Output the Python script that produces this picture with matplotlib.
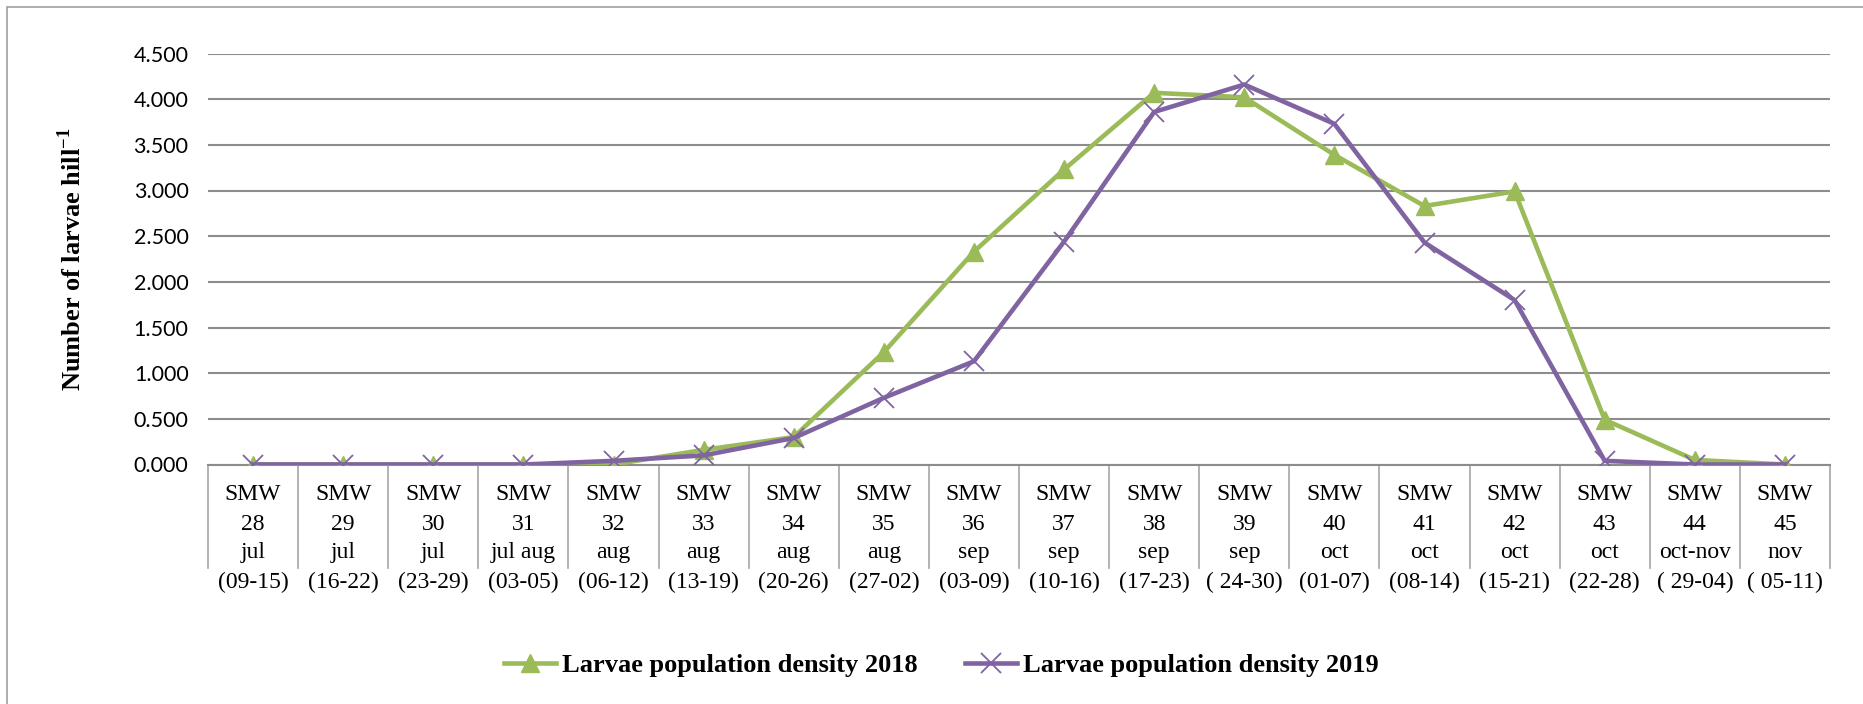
import matplotlib
matplotlib.use("Agg")
import matplotlib.pyplot as plt
import matplotlib.transforms as mtransforms
from matplotlib.patches import Rectangle
from matplotlib.ticker import FuncFormatter

# data
weeks = ["28", "29", "30", "31", "32", "33", "34", "35", "36",
         "37", "38", "39", "40", "41", "42", "43", "44", "45"]
months = ["jul", "jul", "jul", "jul aug", "aug", "aug", "aug", "aug", "sep",
          "sep", "sep", "sep", "oct", "oct", "oct", "oct", "oct-nov", "nov"]
dates = ["(09-15)", "(16-22)", "(23-29)", "(03-05)", "(06-12)", "(13-19)",
         "(20-26)", "(27-02)", "(03-09)", "(10-16)", "(17-23)", "( 24-30)",
         "(01-07)", "(08-14)", "(15-21)", "(22-28)", "( 29-04)", "( 05-11)"]
density_2018 = [0.00, 0.00, 0.00, 0.00, 0.00, 0.16, 0.30, 1.23, 2.33,
                3.23, 4.07, 4.02, 3.39, 2.83, 2.99, 0.49, 0.05, 0.00]
density_2019 = [0.00, 0.00, 0.00, 0.00, 0.04, 0.10, 0.29, 0.73, 1.13,
                2.44, 3.86, 4.16, 3.73, 2.43, 1.80, 0.04, 0.00, 0.00]
yticks = [0.0, 0.5, 1.0, 1.5, 2.0, 2.5, 3.0, 3.5, 4.0, 4.5]

GREEN = "#9BBB59"
PURPLE = "#8064A2"
GRID = "#8C8C8C"
SERIF = "Liberation Serif"

plt.rcParams["mathtext.fontset"] = "custom"
plt.rcParams["mathtext.rm"] = "Liberation Serif:bold"
plt.rcParams["mathtext.bf"] = "Liberation Serif:bold"

W, H = 1863, 704
fig = plt.figure(figsize=(W / 100, H / 100), dpi=100)
ax = fig.add_axes([208 / W, 1 - 464.5 / H, (1830 - 208) / W, (464.5 - 53.5) / H])

x = list(range(len(weeks)))
ax.plot(x, density_2018, color=GREEN, lw=3.3, marker="^", ms=13,
        mec=GREEN, mfc=GREEN, label="Larvae population density 2018", zorder=3)
ax.plot(x, density_2019, color=PURPLE, lw=3.3, marker="x", ms=14, mew=1.3,
        mec=PURPLE, label="Larvae population density 2019", zorder=4)

ax.set_xlim(-0.5, len(weeks) - 0.5)
ax.set_ylim(0, 4.5)
ax.set_yticks(yticks)
ax.yaxis.set_major_formatter(FuncFormatter(lambda v, _: f"{v:.3f}"))
ax.grid(axis="y", color=GRID, lw=1.5)
ax.set_axisbelow(True)
ax.set_xticks([])
ax.tick_params(axis="y", length=0, pad=14, labelsize=15.5)
for lab in ax.get_yticklabels():
    lab.set_fontfamily("Lato")
for side in ["top", "right", "left"]:
    ax.spines[side].set_visible(False)
ax.spines["bottom"].set_color(GRID)
ax.spines["bottom"].set_linewidth(1.5)

# multi-level category axis
trans = mtransforms.blended_transform_factory(ax.transData, ax.transAxes)
for i in range(len(weeks) + 1):
    ax.plot([i - 0.5, i - 0.5], [0, -0.252], transform=trans, color="#A6A6A6",
            lw=1.2, clip_on=False)
rows = [(-0.072, ["SMW"] * len(weeks)), (-0.145, weeks),
        (-0.215, months), (-0.288, dates)]
for ypos, labels in rows:
    for i in x:
        ax.text(i, ypos, labels[i], transform=trans, ha="center", va="center",
                family=SERIF, fontsize=17)

ax.set_ylabel("Number of larvae hill$^{-1}$", family=SERIF, fontweight="bold",
              fontsize=19)
ax.yaxis.set_label_coords(-0.075, 0.5)

fig.legend(loc="center", bbox_to_anchor=(941 / W, 1 - 665 / H), ncol=2,
           frameon=False, handlelength=2.0, columnspacing=1.8, handletextpad=0.2,
           prop={"family": SERIF, "weight": "bold", "size": 19})

# outer chart border
fig.add_artist(Rectangle((7 / W, -0.1), 2, 1.1 - 7 / H, transform=fig.transFigure,
                         fill=False, edgecolor="#A0A0A0", lw=1.2))

fig.savefig("out.png", dpi=100)
